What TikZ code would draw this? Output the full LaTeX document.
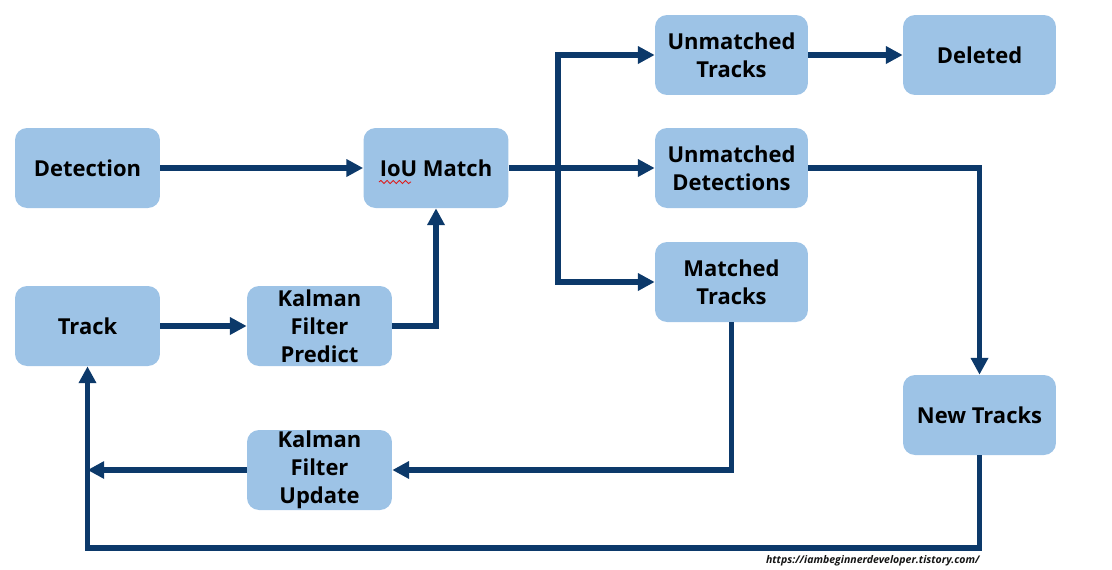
\documentclass[tikz,border=0pt]{standalone}
\usepackage{fontspec}
\setmainfont{Open Sans}
\usetikzlibrary{
    arrows.meta,
    positioning,
    decorations.pathmorphing
}
\definecolor{boxfill}{RGB}{157,195,230}
\definecolor{flowink}{RGB}{12,57,106}
\definecolor{spellred}{RGB}{220,30,30}
\definecolor{urltext}{RGB}{20,20,20}
\tikzset{
    stagebox/.style={
        rectangle,
        rounded corners=0.24cm,
        fill=boxfill,
        draw=none,
        minimum width=2.9cm,
        minimum height=1.6cm,
        align=center,
        font=\fontsize{12.5}{15.9}\selectfont\bfseries,
        text=black,
        inner sep=0pt
    },
    widebox/.style={
        stagebox,
        minimum width=3.06cm
    },
    flowarrow/.style={
        -{Triangle[length=9.5pt, width=9.5pt]},
        draw=flowink,
        line width=3pt
    },
    squiggle/.style={
        draw=spellred,
        line width=0.5pt,
        decorate,
        decoration={snake, amplitude=0.9, segment length=3.5}
    },
    urlnote/.style={
        font=\fontsize{6}{7}\selectfont\bfseries\itshape,
        text=urltext,
        inner sep=0pt
    }
}

\begin{document}
\begin{tikzpicture}[x=0.02cm, y=-0.02cm]
\useasboundingbox (0,0) rectangle (1112,569);

% left column
\node[stagebox] (detect) at (87.5,168) {Detection};
\node[stagebox] (track) at (87.5,326) {Track};

% middle column
\node[stagebox] (iou) at (436,168) {IoU Match};
\node[stagebox] (kpredict) at (319.5,326) {Kalman\\Filter\\Predict};
\node[stagebox] (kupdate) at (319.5,470) {Kalman\\Filter\\Update};

% match results
\node[widebox] (umtrk) at (731.5,55) {Unmatched\\Tracks};
\node[widebox] (umdet) at (731.5,168) {Unmatched\\Detections};
\node[widebox] (mtrk) at (731.5,282) {Matched\\Tracks};

% right column
\node[widebox] (deleted) at (979.5,55) {Deleted};
\node[widebox] (newtrk) at (979.5,415) {New Tracks};

% spell-check underline
\draw[squiggle] (379,182) -- (411,182);

% forward flow
\draw[flowarrow] (detect.east) -- (iou.west);
\draw[flowarrow] (track.east) -- (kpredict.west);
\draw[flowarrow] (kpredict.east) -| (iou.south);

% split after matching
\coordinate (split) at (558,168);
\draw[flowarrow] (iou.east) -- (umdet.west);
\draw[flowarrow] (split) |- (umtrk.west);
\draw[flowarrow] (split) |- (mtrk.west);
\draw[flowarrow] (umtrk.east) -- (deleted.west);
\draw[flowarrow] (umdet.east) -| (newtrk.north);

% feedback loops
\draw[flowarrow] (mtrk.south) |- (kupdate.east);
\draw[flowarrow] (kupdate.west) -- (track.south |- kupdate.west);
\coordinate (bottom) at (87.5,548);
\draw[flowarrow] (newtrk.south) |- (bottom) -- (track.south);

\node[urlnote, anchor=east] (url) at (980,561) {https://iambeginnerdeveloper.tistory.com/};

\end{tikzpicture}
\end{document}
